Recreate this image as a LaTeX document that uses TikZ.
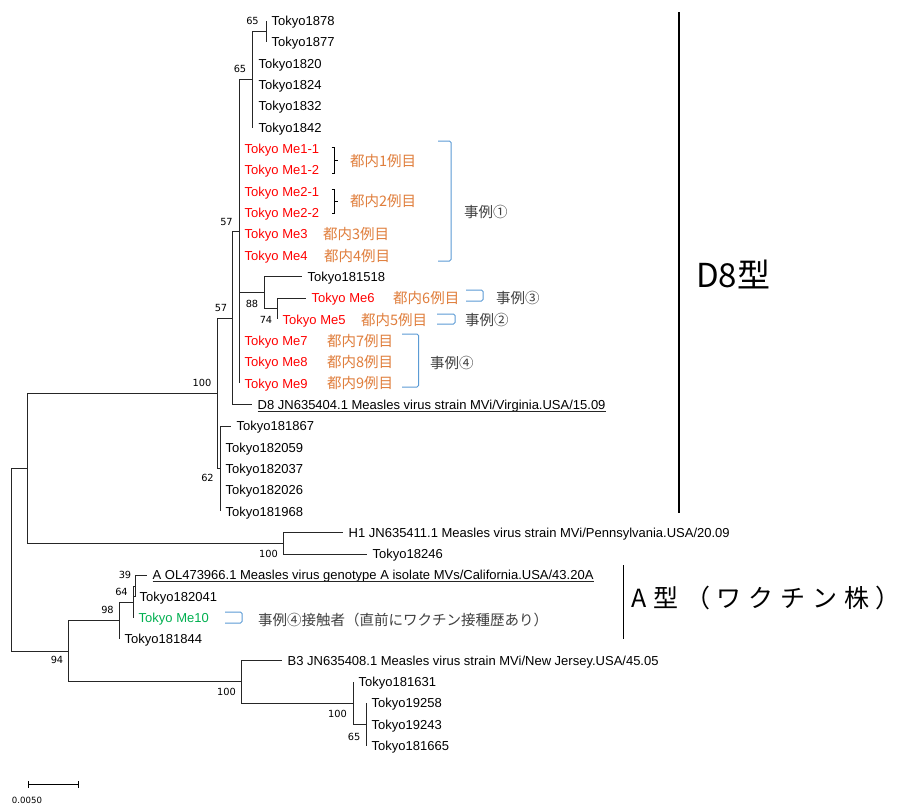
\documentclass[tikz,border=0pt]{standalone}
\usepackage{fontspec}
\setmainfont{Liberation Sans}
\newfontfamily\jpfont{Noto Sans CJK JP}
\newfontfamily\dvfont{DejaVu Sans}
\definecolor{mered}{HTML}{FF0000}
\definecolor{megreen}{HTML}{00B050}
\definecolor{meorange}{HTML}{E07E3C}
\definecolor{mebluebr}{HTML}{5B9BD5}
\definecolor{megray}{HTML}{404040}
\newcommand{\trk}{\hspace{6.8pt}}
\newcommand{\mkleaf}[5]{%
  \coordinate (t#1) at (#2,#3);
  \node[#5] (l#1) at (#2+5.5,#3) {#4};}
\begin{document}
\begin{tikzpicture}[x=1pt,y=-1pt,
  tree/.style={line width=0.9pt,draw=black!85},
  leaf/.style={anchor=west,inner sep=0pt,font=\fontsize{13}{13}\selectfont,text height=9.3pt,text depth=0pt},
  redleaf/.style={leaf,text=mered},
  greenleaf/.style={leaf,text=megreen},
  boot/.style={inner sep=0pt,font=\dvfont\fontsize{9.8}{9.8}\selectfont},
  jplab/.style={anchor=west,inner sep=0pt,font=\jpfont\fontsize{14.5}{14.5}\selectfont,text height=11pt,text depth=0pt},
  orlab/.style={jplab,text=meorange},
  graylab/.style={jplab,text=megray},
  bluebr/.style={draw=mebluebr,line width=1pt,rounded corners=1.5pt},
  blackbr/.style={draw=black,line width=0.9pt},
  ul/.style={draw=black!85,line width=0.7pt},
  bigbar/.style={draw=black,line width=2pt}]
\path[use as bounding box,fill=white] (0,0) rectangle (906,812);

% leaves
\mkleaf{1878}{266}{21.00}{Tokyo1878}{leaf}
\mkleaf{1877}{266}{42.32}{Tokyo1877}{leaf}
\mkleaf{1820}{253}{63.64}{Tokyo1820}{leaf}
\mkleaf{1824}{253}{84.96}{Tokyo1824}{leaf}
\mkleaf{1832}{253}{106.28}{Tokyo1832}{leaf}
\mkleaf{1842}{253}{127.60}{Tokyo1842}{leaf}
\mkleaf{me11}{239}{148.92}{Tokyo Me1-1}{redleaf}
\mkleaf{me12}{239}{170.24}{Tokyo Me1-2}{redleaf}
\mkleaf{me21}{239}{191.56}{Tokyo Me2-1}{redleaf}
\mkleaf{me22}{239}{212.88}{Tokyo Me2-2}{redleaf}
\mkleaf{me3}{239}{234.20}{Tokyo Me3}{redleaf}
\mkleaf{me4}{239}{255.52}{Tokyo Me4}{redleaf}
\mkleaf{181518}{302}{276.84}{Tokyo181518}{leaf}
\mkleaf{me6}{306}{298.16}{Tokyo Me6}{redleaf}
\mkleaf{me5}{277}{319.48}{Tokyo Me5}{redleaf}
\mkleaf{me7}{239}{340.80}{Tokyo Me7}{redleaf}
\mkleaf{me8}{239}{362.12}{Tokyo Me8}{redleaf}
\mkleaf{me9}{239}{383.44}{Tokyo Me9}{redleaf}
\mkleaf{d8}{252}{404.76}{D8 JN635404.1 Measles virus strain MVi/Virginia.USA/15.09}{leaf}
\mkleaf{181867}{231}{426.08}{Tokyo181867}{leaf}
\mkleaf{182059}{220}{447.40}{Tokyo182059}{leaf}
\mkleaf{182037}{220}{468.72}{Tokyo182037}{leaf}
\mkleaf{182026}{220}{490.04}{Tokyo182026}{leaf}
\mkleaf{181968}{220}{511.36}{Tokyo181968}{leaf}
\mkleaf{h1}{343}{532.68}{H1 JN635411.1 Measles virus strain MVi/Pennsylvania.USA/20.09}{leaf}
\mkleaf{18246}{367}{554.00}{Tokyo18246}{leaf}
\mkleaf{aol}{147}{575.32}{A OL473966.1 Measles virus genotype A isolate MVs/California.USA/43.20A}{leaf}
\mkleaf{182041}{134}{596.64}{Tokyo182041}{leaf}
\mkleaf{me10}{133}{617.96}{Tokyo Me10}{greenleaf}
\mkleaf{181844}{119}{639.28}{Tokyo181844}{leaf}
\mkleaf{b3}{282}{660.60}{B3 JN635408.1 Measles virus strain MVi/New Jersey.USA/45.05}{leaf}
\mkleaf{181631}{353}{681.92}{Tokyo181631}{leaf}
\mkleaf{19258}{366}{703.24}{Tokyo19258}{leaf}
\mkleaf{19243}{366}{724.56}{Tokyo19243}{leaf}
\mkleaf{181665}{366}{745.88}{Tokyo181665}{leaf}

% underlines
\draw[ul] ([yshift=-1.6pt]ld8.south west) -- ([yshift=-1.6pt]ld8.south east);
\draw[ul] ([yshift=-1.6pt]laol.south west) -- ([yshift=-1.6pt]laol.south east);

% internal nodes
\coordinate (n65a) at (266,31.66);
\coordinate (n65b) at (252,79.63);
\coordinate (n74) at (277,308.82);
\coordinate (n88) at (264,292.83);
\coordinate (n57a) at (239,231.5);
\coordinate (n57b) at (232,318.1);
\coordinate (n62) at (220,468.72);
\coordinate (n100a) at (217,393.4);
\coordinate (n100h) at (283,543.34);
\coordinate (nD8H) at (27,468.37);
\coordinate (n39) at (135,585.98);
\coordinate (n64) at (133,601.97);
\coordinate (n98) at (119,620.6);
\coordinate (n65c) at (366,724.56);
\coordinate (n100c) at (353,703.24);
\coordinate (n100b) at (241,681.92);
\coordinate (n94) at (68,651.26);
\coordinate (root) at (11,559.8);

\foreach \p/\c in {n65a/t1878,n65a/t1877,
  n65b/n65a,n65b/t1820,n65b/t1824,n65b/t1832,n65b/t1842,
  n74/tme6,n74/tme5,n88/t181518,n88/n74,
  n57a/n65b,n57a/tme11,n57a/tme12,n57a/tme21,n57a/tme22,n57a/tme3,n57a/tme4,
  n57a/n88,n57a/tme7,n57a/tme8,n57a/tme9,
  n57b/n57a,n57b/td8,
  n62/t181867,n62/t182059,n62/t182037,n62/t182026,n62/t181968,
  n100a/n57b,n100a/n62,n100h/th1,n100h/t18246,nD8H/n100a,nD8H/n100h,
  n39/taol,n39/t182041,n64/n39,n64/tme10,n98/n64,n98/t181844,
  n65c/t19258,n65c/t19243,n65c/t181665,n100c/t181631,n100c/n65c,
  n100b/tb3,n100b/n100c,n94/n98,n94/n100b,root/nD8H,root/n94}
  \draw[tree] (\p) |- (\c);

% bootstrap values
\node[boot] (b65a) at (252.5,21) {65};
\node[boot] (b65b) at (240,69) {65};
\node[boot] (b57a) at (226.5,222) {57};
\node[boot] (b88) at (252,304) {88};
\node[boot] (b74) at (266,320) {74};
\node[boot] (b57b) at (221,308) {57};
\node[boot] (b100a) at (202,383) {100};
\node[boot] (b62) at (207.5,478) {62};
\node[boot] (b100h) at (268.5,554) {100};
\node[boot] (b39) at (125,575) {39};
\node[boot] (b64) at (121.5,592) {64};
\node[boot] (b98) at (107.5,610) {98};
\node[boot] (b94) at (57,660) {94};
\node[boot] (b100b) at (226.5,692) {100};
\node[boot] (b100c) at (337.5,714) {100};
\node[boot] (b65c) at (354,737) {65};

% black braces
\draw[blackbr] (331.5,147) -- (334.5,147) -- (334.5,173) -- (331.5,173);
\draw[blackbr] (334.5,160) -- (337.5,160);
\draw[blackbr] (331.5,189) -- (334.5,189) -- (334.5,213.3) -- (331.5,213.3);
\draw[blackbr] (334.5,201) -- (337.5,201);

% orange labels
\node[orlab] (j1) at (350,160.5) {都内1例目};
\node[orlab] (j2) at (350,201) {都内2例目};
\node[orlab] (j3) at (323,234.2) {都内3例目};
\node[orlab] (j4) at (324,255.5) {都内4例目};
\node[orlab] (j6) at (393,298) {都内6例目};
\node[orlab] (j5) at (361,319.5) {都内5例目};
\node[orlab] (j7) at (327,340.8) {都内7例目};
\node[orlab] (j8) at (327,362.1) {都内8例目};
\node[orlab] (j9) at (327,383.4) {都内9例目};

% blue brackets
\draw[bluebr] (438,141) -- (451,141) -- (451,261) -- (438,261);
\draw[bluebr] (466,290) -- (483,290) -- (483,301) -- (466,301);
\draw[bluebr] (437,314) -- (455,314) -- (455,324) -- (437,324);
\draw[bluebr] (402,334) -- (418.5,334) -- (418.5,387) -- (402,387);
\draw[bluebr] (225,612) -- (242,612) -- (242,623) -- (225,623);

% case labels
\node[graylab] (c1) at (464,212) {事例①};
\node[graylab] (c3) at (496,297.5) {事例③};
\node[graylab] (c2) at (465,320) {事例②};
\node[graylab] (c4) at (430,363) {事例④};
\node[graylab] (c4b) at (258,620) {事例④接触者（直前にワクチン接種歴あり）};

% genotype bars
\draw[bigbar] (679,12) -- (679,513);
\node[anchor=base west,inner sep=0pt,font=\jpfont\fontsize{33}{33}\selectfont] (gd8) at (696,287.5) {D8型};
\draw[bigbar,line width=1.7pt] (623.5,565) -- (623.5,639);
\node[anchor=base west,inner sep=0pt,font=\jpfont\fontsize{25}{25}\selectfont] (ga) at (631,607) {A\trk 型\trk （\trk ワ\trk ク\trk チ\trk ン\trk 株\trk\rlap{）}};

% scale bar
\coordinate (sbl) at (28,784);
\coordinate (sbr) at (78,784);
\draw[line width=0.9pt] (sbl) -- (sbr);
\draw[line width=0.9pt] ([yshift=-3.5pt]sbl) -- ([yshift=3.5pt]sbl);
\draw[line width=0.9pt] ([yshift=-3.5pt]sbr) -- ([yshift=3.5pt]sbr);
\node[inner sep=0pt,font=\dvfont\fontsize{8.6}{8.6}\selectfont] (sbt) at (27,800) {0.0050};
\end{tikzpicture}
\end{document}
